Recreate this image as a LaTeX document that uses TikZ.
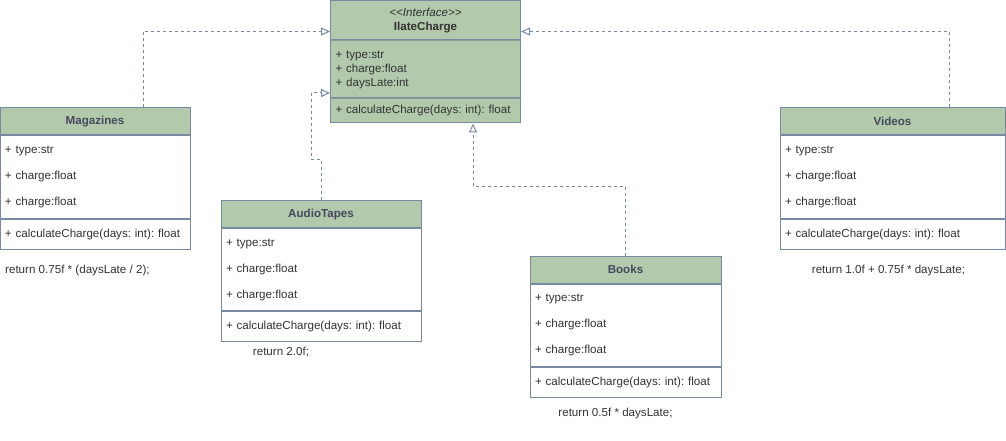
\documentclass[tikz,border=0pt]{standalone}
\usepackage{fontspec}
\setmainfont{Liberation Sans}
\usetikzlibrary{arrows.meta,positioning}
\frenchspacing

\definecolor{umlgreen}{HTML}{B2C9AB}
\definecolor{umlborder}{HTML}{788AA3}
\definecolor{umltext}{HTML}{46495D}
\definecolor{membertext}{HTML}{333333}
\definecolor{ifacerule}{HTML}{8E9C94}

\tikzset{
	classhead/.style={draw=umlborder, fill=umlgreen, text=umltext, font=\fontsize{11.6}{14}\selectfont\bfseries, minimum height=27pt, inner sep=0pt, line width=1pt},
	classbody/.style={draw=umlborder, fill=white, text=membertext, font=\fontsize{11.6}{14}\selectfont, align=left, inner xsep=5pt, inner ysep=0pt, anchor=north, line width=1pt},
	ifacepart/.style={draw=umlborder, fill=umlgreen, text=membertext, font=\fontsize{11.6}{14}\selectfont, align=left, inner xsep=5pt, inner ysep=0pt, text width=180pt, anchor=north, line width=1pt},
	note/.style={text=membertext, font=\fontsize{11.6}{14}\selectfont, inner sep=0pt},
	realize/.style={draw=umlborder, line width=1pt, dash pattern=on 3pt off 3pt, -{Triangle[open, length=9pt, width=8pt, fill=white]}}
}

\begin{document}
\begin{tikzpicture}[x=1pt, y=-1pt]
	\useasboundingbox (0,0) rectangle (1006,441);

	% interface
	\node[ifacepart, minimum height=39pt, align=center] (ifacehead) at (425.5,0.5) {\textit{{<}{<}Interface{>}{>}}\\\textbf{IlateCharge}};
	\node[ifacepart, minimum height=57pt] (ifaceattr) at (ifacehead.south) {+ type:str\\+ charge:float\\+ daysLate:int};
	\node[ifacepart, minimum height=24pt] (ifaceop) at (ifaceattr.south) {\mbox{+ calculateCharge(days: int): float}};
	\draw[ifacerule, line width=1pt] (ifaceattr.north west) ++(0.5,0) -- ([xshift=-0.5pt]ifaceattr.north east);
	\draw[ifacerule, line width=1pt] (ifaceop.north west) ++(0.5,0) -- ([xshift=-0.5pt]ifaceop.north east);

	% Magazines
	\node[classhead, minimum width=190pt] (mag) at (95,121.5) {Magazines};
	\node[classbody, text width=180pt, minimum height=82pt] (magattr) at (mag.south) {+ type:str\\[12pt]+ charge:float\\[12pt]+ charge:float};
	\node[classbody, text width=180pt, minimum height=30pt] (magop) at (magattr.south) {\mbox{+ calculateCharge(days: int): float}};
	\node[note, anchor=west] (magret) at (5,270) {return 0.75f * (daysLate / 2);};

	% AudioTapes
	\node[classhead, minimum width=200pt] (aud) at (321,214) {AudioTapes};
	\node[classbody, text width=190pt, minimum height=82pt] (audattr) at (aud.south) {+ type:str\\[12pt]+ charge:float\\[12pt]+ charge:float};
	\node[classbody, text width=190pt, minimum height=30pt] (audop) at (audattr.south) {\mbox{+ calculateCharge(days: int): float}};
	\node[note] (audret) at (281,352) {return 2.0f;};

	% Books
	\node[classhead, minimum width=191pt] (bk) at (625.5,269.5) {Books};
	\node[classbody, text width=181pt, minimum height=82pt] (bkattr) at (bk.south) {+ type:str\\[12pt]+ charge:float\\[12pt]+ charge:float};
	\node[classbody, text width=181pt, minimum height=30pt] (bkop) at (bkattr.south) {\mbox{+ calculateCharge(days: int): float}};
	\node[note] (bkret) at (615.5,413) {return 0.5f * daysLate;};

	% Videos
	\node[classhead, minimum width=225pt] (vid) at (892.5,121.5) {Videos};
	\node[classbody, text width=215pt, minimum height=82pt] (vidattr) at (vid.south) {+ type:str\\[12pt]+ charge:float\\[12pt]+ charge:float};
	\node[classbody, text width=215pt, minimum height=30pt] (vidop) at (vidattr.south) {\mbox{+ calculateCharge(days: int): float}};
	\node[note] (vidret) at (888.5,270) {return 1.0f + 0.75f * daysLate;};

	% realizations
	\draw[realize] ([xshift=48pt]mag.north) |- ([yshift=-11pt]ifacehead.west);
	\draw[realize] (aud.north) -- ++(0,-41) -- ++(-10,0) |- ([yshift=18pt]ifaceop.west);
	\draw[realize] (bk.north) -- ++(0,-69) -| ([xshift=47.5pt]ifaceop.south);
	\draw[realize] ([xshift=56.5pt]vid.north) |- ([yshift=-11pt]ifacehead.east);
\end{tikzpicture}
\end{document}
